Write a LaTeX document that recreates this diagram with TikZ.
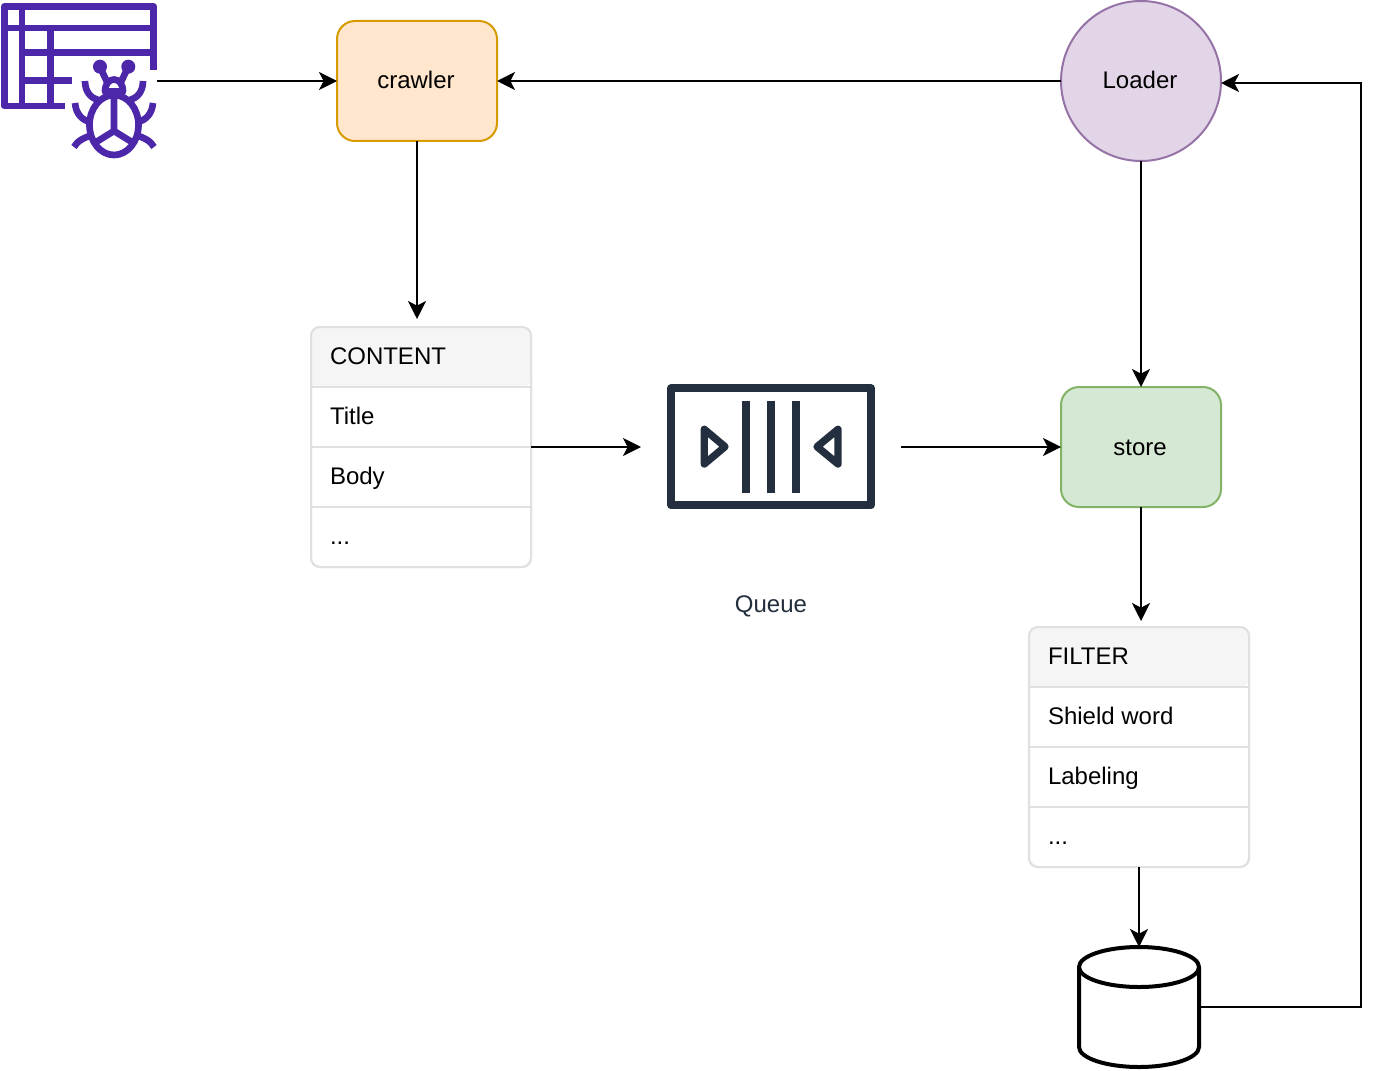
\documentclass[tikz,border=0pt]{standalone}
\usepackage{fontspec}
\setmainfont{Liberation Sans}
\usetikzlibrary{arrows.meta}
\definecolor{crawlfill}{HTML}{FFE6CC}\definecolor{crawlline}{HTML}{D79B00}
\definecolor{loadfill}{HTML}{E1D5E7}\definecolor{loadline}{HTML}{9673A6}
\definecolor{storefill}{HTML}{D5E8D4}\definecolor{storeline}{HTML}{82B366}
\definecolor{tabline}{HTML}{E0E0E0}\definecolor{tabhead}{HTML}{F5F5F5}
\definecolor{bugcol}{HTML}{4D27AA}\definecolor{queuecol}{HTML}{232F3E}
\tikzset{
  every node/.style={font=\fontsize{18}{22}\selectfont,inner sep=0pt,outer sep=0pt},
  flowbox/.style={draw,line width=1.5pt,rounded corners=13.5pt,minimum width=120pt,minimum height=90pt,text height=16pt,text depth=4pt},
  roundnode/.style={circle,draw,line width=1.5pt,minimum size=120pt,text height=16pt,text depth=4pt},
  tablebox/.style={draw=tabline,line width=1.5pt,rounded corners=6.75pt,minimum width=165pt,minimum height=180pt},
  tabsep/.style={draw=tabline,line width=1.5pt},
  rowtext/.style={anchor=base west},
  ghost/.style={minimum width=#1,minimum height=90pt},
  flow/.style={draw=black,line width=1.5pt,-{Stealth[length=13.5pt,width=13.5pt,inset=3.5pt]}},
  bugline/.style={draw=bugcol,line width=5pt,line join=round},
  queueline/.style={draw=queuecol,line width=6pt,line join=round},
  dbline/.style={draw=black,line width=3pt,line join=round},
}
\begin{document}
\begin{tikzpicture}[x=0.75pt,y=-0.75pt]
\useasboundingbox (0,0) rectangle (1380,1070);

% named nodes
\node[ghost=117pt,minimum height=117pt] (bug) at (79,81) {};
\node[flowbox,draw=crawlline,fill=crawlfill] (crawler) at (417,81) {crawler\hspace*{1.5pt}};
\node[roundnode,draw=loadline,fill=loadfill] (loader) at (1141,81) {Loader\hspace*{1.5pt}};
\node[flowbox,draw=storeline,fill=storefill] (store) at (1141,447) {store\hspace*{1.5pt}};
\node[tablebox] (content) at (421,447) {};
\node[tablebox] (filter) at (1139,747) {};
\node[ghost=195pt] (queue) at (771,447) {};
\node[text=queuecol] (queuelabel) at (771,606) {Queue};
\node[minimum width=90pt,minimum height=90pt] (db) at (1139,1007) {};

% content table
\fill[tabhead,rounded corners=6.75pt] (311,387) -- (311,327) -- (531,327) -- (531,387) [sharp corners] -- cycle;
\path[tabsep] (311,387) -- (531,387) (311,447) -- (531,447) (311,507) -- (531,507);
\draw[tabline,line width=1.5pt,rounded corners=6.75pt] (311,327) rectangle (531,567);
\node[rowtext] (c1) at (330,364) {CONTENT};
\node[rowtext] (c2) at (330,424) {Title};
\node[rowtext] (c3) at (330,484) {Body};
\node[rowtext] (c4) at (330,544) {...};

% filter table
\fill[tabhead,rounded corners=6.75pt] (1029,687) -- (1029,627) -- (1249,627) -- (1249,687) [sharp corners] -- cycle;
\path[tabsep] (1029,687) -- (1249,687) (1029,747) -- (1249,747) (1029,807) -- (1249,807);
\draw[tabline,line width=1.5pt,rounded corners=6.75pt] (1029,627) rectangle (1249,867);
\node[rowtext] (f1) at (1048,664) {FILTER};
\node[rowtext] (f2) at (1048,724) {Shield word};
\node[rowtext] (f3) at (1048,784) {Labeling};
\node[rowtext] (f4) at (1048,844) {...};

% bug icon
\path[bugline] (153.5,70) -- (153.5,6.3) -- (4.5,6.3) -- (4.5,106) -- (65,106);
\path[bugline] (4.5,28) -- (153.5,28) (22,52.5) -- (153.5,52.5) (22,80.5) -- (72,80.5);
\path[bugline] (22,6.3) -- (22,106) (50.7,28) -- (50.7,106);
\fill[bugcol] (100,66.7) circle[radius=7] (128.3,66.7) circle[radius=7];
\path[bugline] (100,66.7) -- (107,82) (128.3,66.7) -- (121,82);
\path[bugline] (105,91.5) .. controls (105,75.5) and (123,75.5) .. (123,91.5) -- cycle;
\path[bugline] (114,125) ellipse[x radius=24.5,y radius=30];
\path[bugline] (114,96) -- (114,131) (93,144) -- (114,131) -- (135,144);
\path[bugline] (85,81) .. controls (85,92) and (91,98) .. (98,100);
\path[bugline] (143,81) .. controls (143,92) and (137,98) .. (130,100);
\path[bugline] (75,103) .. controls (76,114) and (82,120) .. (90,122);
\path[bugline] (153,103) .. controls (152,114) and (146,120) .. (138,122);
\path[bugline] (74,147) .. controls (77,141) and (85,137) .. (93,135);
\path[bugline] (154,147) .. controls (151,141) and (143,137) .. (135,135);

% queue icon
\path[queueline] (671.3,388.3) rectangle (871,505.3);
\path[queueline] (746,400.7) -- (746,492.7) (771,400.7) -- (771,492.7) (796,400.7) -- (796,492.7);
\path[draw=queuecol,line width=5.5pt,line join=round] (704.3,429.3) -- (725,446.7) -- (704.3,464) -- cycle;
\path[draw=queuecol,line width=5.5pt,line join=round] (838,429.3) -- (817,446.7) -- (838,464) -- cycle;

% cylinder
\path[dbline,fill=white] (1079,967) -- (1079,1047) .. controls (1079,1058) and (1106,1067) .. (1139,1067)
  .. controls (1172,1067) and (1199,1058) .. (1199,1047) -- (1199,967);
\path[dbline,fill=white] (1139,967) ellipse[x radius=60,y radius=20];

% connectors
\coordinate (contentin) at (417,319);
\coordinate (filterin) at (1141,621);
\coordinate (loaderin) at (1221,83);
\coordinate (bend1) at (1361,1007);
\coordinate (bend2) at (1361,83);
\coordinate (queuein) at (641,447);
\coordinate (queueout) at (901,447);
\draw[flow] (bug.east) -- (crawler.west);
\draw[flow] (loader.west) -- (crawler.east);
\draw[flow] (crawler.south) -- (contentin);
\draw[flow] (content.east) -- (queue.west);
\draw[flow] (queue.east) -- (store.west);
\draw[flow] (loader.south) -- (store.north);
\draw[flow] (store.south) -- (filterin);
\draw[flow] (filter.south) -- (db.north);
\draw[flow] (db.east) -- (bend1) -- (bend2) -- (loaderin);
\end{tikzpicture}
\end{document}
